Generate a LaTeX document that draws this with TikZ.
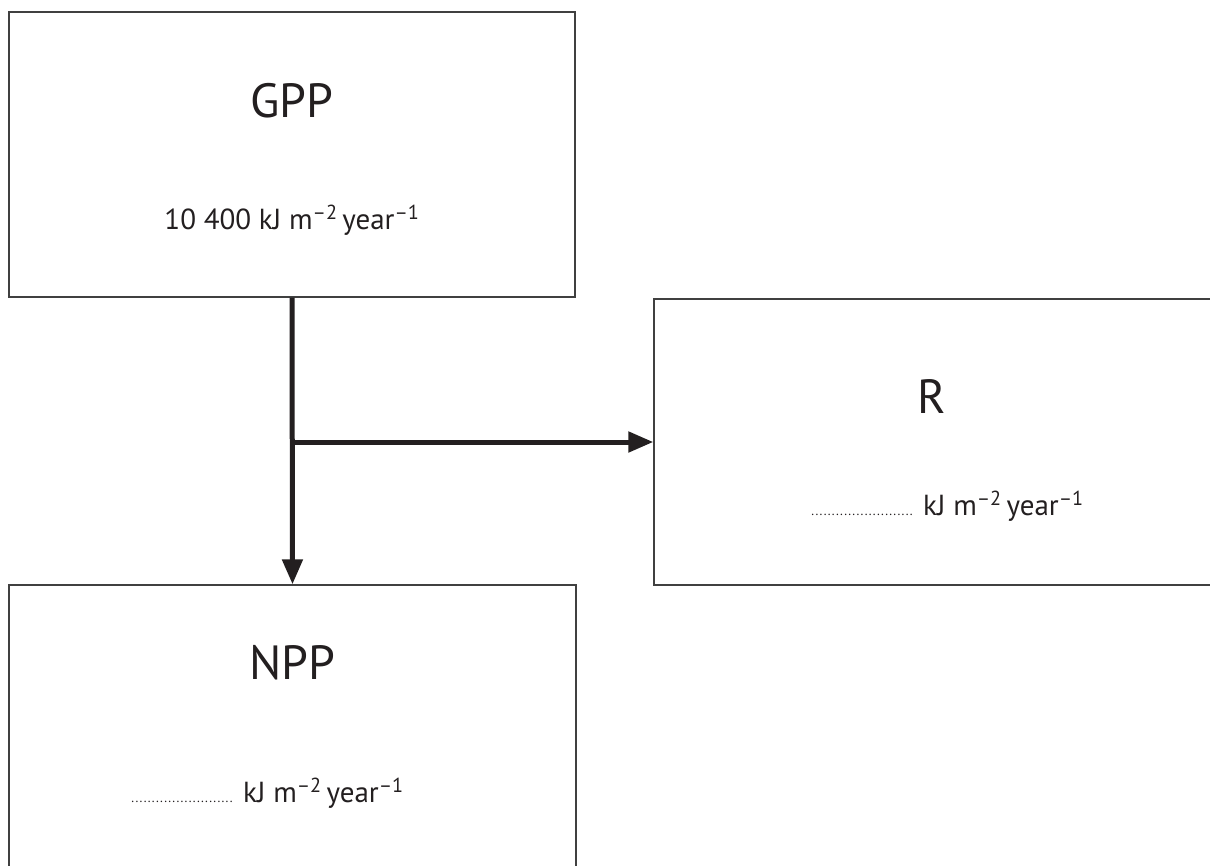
\documentclass[tikz,border=0pt]{standalone}
\usepackage{fontspec}
\setmainfont{PT Sans}
\usetikzlibrary{arrows.meta}
\definecolor{ink}{HTML}{231F20}
\definecolor{boxline}{HTML}{404040}
\newcommand{\units}{kJ m\textsuperscript{–2}\,year\textsuperscript{–1}}
\newcommand{\blank}{\makebox[103pt]{\fontsize{13}{13}\selectfont\leaders\hbox to 4.1pt{\hss.\hss}\hfill}}
\begin{document}
\begin{tikzpicture}[x=1pt,y=-1pt,
  box/.style={draw=boxline,line width=1.4pt,rectangle,inner sep=0pt},
  title/.style={font=\fontsize{48}{48}\selectfont,text=ink},
  value/.style={font=\fontsize{29}{29}\selectfont,text=ink},
  flow/.style={draw=ink,line width=5pt,-{Triangle[length=25pt,width=20pt]}}]
\useasboundingbox (0,0) rectangle (1210,865);
\fill[white] (0,0) rectangle (1210,865);
\node[box,minimum width=566pt,minimum height=285pt] (gpp) at (292,154.5) {};
\node[box,minimum width=562pt,minimum height=286pt] (r) at (935,442) {};
\node[box,minimum width=567pt,minimum height=290pt] (npp) at (292.5,730) {};
\node[title] (gppt) at (292,101) {GPP};
\node[value,anchor=base] (gppv) at (292,229) {10 400 \units};
\node[title] (rt) at (932,397) {R};
\node[value,anchor=base west,inner sep=0pt] (rv) at (923,515) {\units};
\node[anchor=base east,inner sep=0pt,text=ink] (rd) at (914,515) {\blank};
\node[title] (nppt) at (292,663) {NPP};
\node[value,anchor=base west,inner sep=0pt] (nppv) at (243,802) {\units};
\node[anchor=base east,inner sep=0pt,text=ink] (nppd) at (234,802) {\blank};
\coordinate (split) at (gpp.south |- r.west);
\draw[flow] (gpp.south) -- (npp.north);
\draw[flow] (split) -- (r.west);
\end{tikzpicture}
\end{document}
